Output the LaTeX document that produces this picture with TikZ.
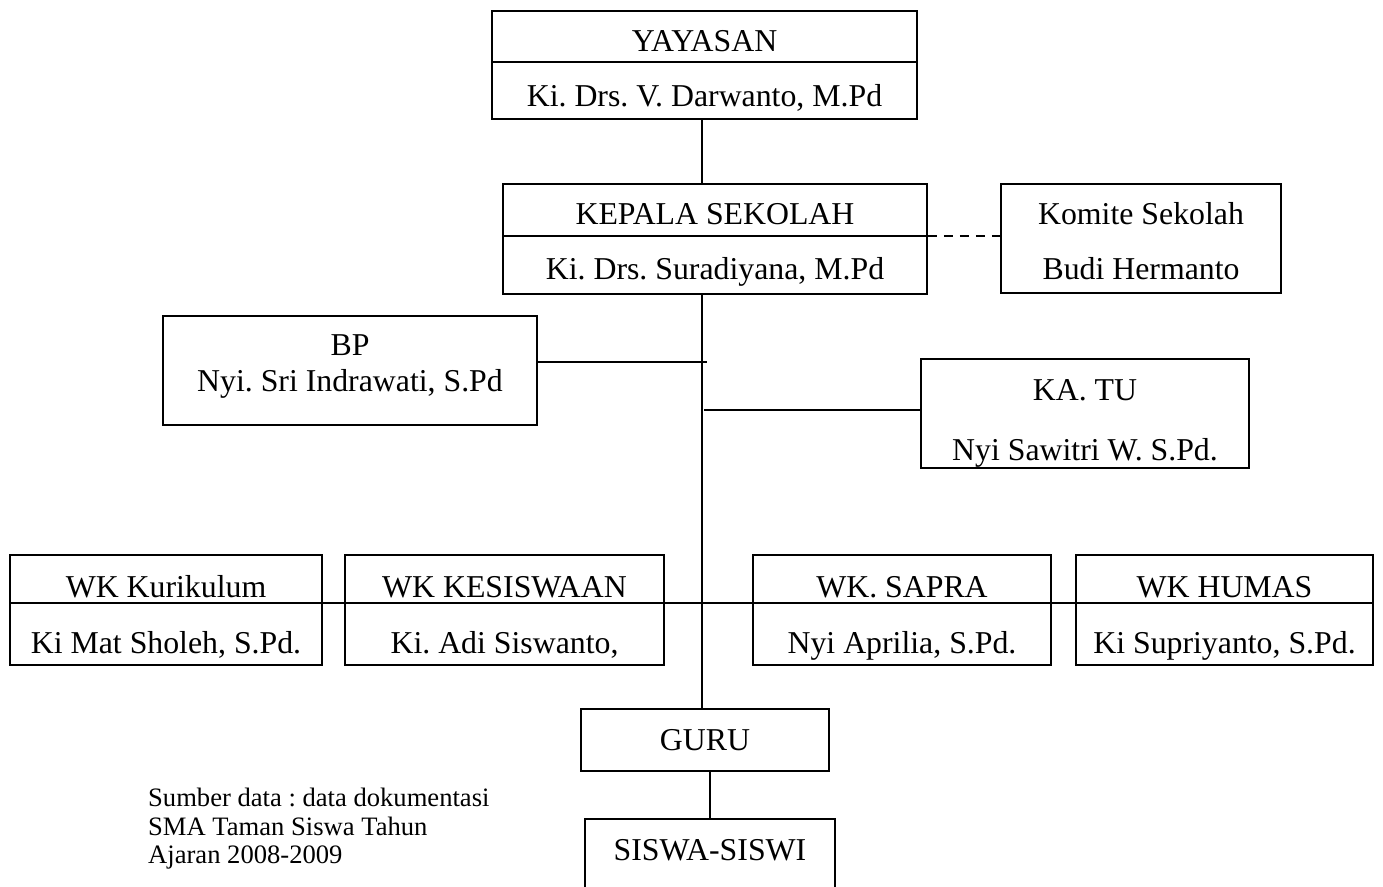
\documentclass[tikz,border=0pt]{standalone}
\usepackage{fontspec}
\setmainfont{Liberation Serif}
\frenchspacing
\begin{document}
\begin{tikzpicture}[x=1pt,y=-1pt,
  box/.style={draw=black,line width=1.6pt,rectangle,inner sep=0pt,fill=none},
  txt/.style={inner sep=0pt,anchor=base,font=\fontsize{31.8}{36}\selectfont},
  srctxt/.style={inner sep=0pt,anchor=base west,font=\fontsize{26.6}{28}\selectfont},
  conn/.style={line width=1.6pt},
  dconn/.style={line width=1.6pt,dash pattern=on 9pt off 7pt}]
\useasboundingbox (0,0) rectangle (1383,886);
\fill[white] (0,0) rectangle (1383,886);
% boxes
\node[box,minimum width=425pt,minimum height=108pt] (yay) at (704.5,65) {};
\node[box,minimum width=424pt,minimum height=110pt] (kep) at (715,239) {};
\node[box,minimum width=280pt,minimum height=109pt] (kom) at (1141,238.5) {};
\node[box,minimum width=374pt,minimum height=109pt] (bp) at (350,370.5) {};
\node[box,minimum width=328pt,minimum height=109pt] (katu) at (1085,413.5) {};
\node[box,minimum width=312pt,minimum height=110pt] (wka) at (166,610) {};
\node[box,minimum width=319pt,minimum height=110pt] (wkb) at (504.5,610) {};
\node[box,minimum width=298pt,minimum height=110pt] (wkc) at (902,610) {};
\node[box,minimum width=297pt,minimum height=110pt] (wkd) at (1224.5,610) {};
\node[box,minimum width=248pt,minimum height=62pt] (guru) at (705,740) {};
\node[box,minimum width=250pt,minimum height=69pt] (siswa) at (710,853.5) {};
% dividers
\draw[conn] (yay.west |- 0,62) -- (yay.east |- 0,62);
\draw[conn] (kep.west |- 0,236) -- (kep.east |- 0,236);
% texts
\node[txt] (yayA) at (704.5,51.7) {YAYASAN};
\node[txt] (yayB) at (704.5,106) {Ki. Drs. V. Darwanto, M.Pd};
\node[txt] (kepA) at (715,224) {KEPALA SEKOLAH};
\node[txt] (kepB) at (715,279) {Ki. Drs. Suradiyana, M.Pd};
\node[txt] (komA) at (1141,224) {Komite Sekolah};
\node[txt] (komB) at (1141,279) {Budi Hermanto};
\node[txt] (bpA) at (350,355) {BP};
\node[txt] (bpB) at (350,391.5) {Nyi. Sri Indrawati, S.Pd};
\node[txt] (katuA) at (1085,400) {KA. TU};
\node[txt] (katuB) at (1085,460) {Nyi Sawitri W. S.Pd.};
\node[txt] (wkaA) at (166,597) {WK Kurikulum};
\node[txt] (wkaB) at (166,653) {Ki Mat Sholeh, S.Pd.};
\node[txt] (wkbA) at (504.5,597) {WK KESISWAAN};
\node[txt] (wkbB) at (504.5,653) {Ki. Adi Siswanto,};
\node[txt] (wkcA) at (902,597) {WK. SAPRA};
\node[txt] (wkcB) at (902,653) {Nyi Aprilia, S.Pd.};
\node[txt] (wkdA) at (1224.5,597) {WK HUMAS};
\node[txt] (wkdB) at (1224.5,653) {Ki Supriyanto, S.Pd.};
\node[txt] (guruT) at (705,750) {GURU};
\node[txt] (siswaT) at (710,860) {SISWA-SISWI};
\node[srctxt] (src1) at (148,806) {Sumber data : data dokumentasi};
\node[srctxt] (src2) at (148,835) {SMA Taman Siswa Tahun};
\node[srctxt] (src3) at (148,863) {Ajaran 2008-2009};
% connector helpers
\coordinate (tk) at (702,0);
\coordinate (bpl) at (707,362);
\coordinate (tul) at (704,410);
\coordinate (kdv) at (0,236);
\coordinate (wkl) at (0,603);
% connectors
\draw[conn] (yay.south -| tk) -- (kep.north -| tk);
\draw[conn] (kep.south -| tk) -- (guru.north -| tk);
\draw[conn] (bp.east |- bpl) -- (bpl);
\draw[conn] (tul) -- (katu.west |- tul);
\draw[dconn] (kep.east |- kdv) -- (kom.west |- kdv);
\draw[conn] (wka.west |- wkl) -- (wkd.east |- wkl);
\draw[conn] (guru.south -| siswa.north) -- (siswa.north);
\end{tikzpicture}
\end{document}
